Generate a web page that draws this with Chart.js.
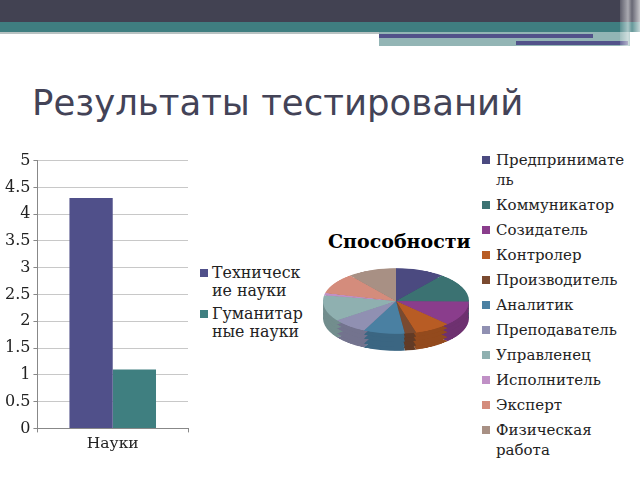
<!DOCTYPE html>
<html>
<head>
<meta charset="utf-8">
<script src="https://cdn.jsdelivr.net/npm/chart.js@4.4.1/dist/chart.umd.min.js"></script>
<style>
  html, body { margin: 0; padding: 0; background: #fff; }
  #slide { position: relative; width: 640px; height: 480px; overflow: hidden; background: #fff; }
  .band { position: absolute; }
  #title { position: absolute; left: 32px; top: 82px; font: 35.5px "DejaVu Sans"; color: #434357; white-space: nowrap; }
  #barBox { position: absolute; left: 0; top: 148px; width: 200px; height: 312px; }
  .legend { position: absolute; font: 15px "DejaVu Serif"; color: #222; }
  .legend .it { position: relative; padding-left: 12px; line-height: 18px; margin-bottom: 5px; white-space: nowrap; }
  .legend .sw { position: absolute; left: 0; top: 5px; width: 8px; height: 8px; }
  #barLegend { left: 200px; top: 264px; font-size: 15.8px; }
  .pieLayer { position: absolute; left: 323px; top: 228px; width: 146px; height: 146px; transform-origin: 50% 50%; }
  #pieTitle { position: absolute; left: 328px; top: 230px; font: bold 19px "DejaVu Serif"; color: #000; white-space: nowrap; }
  #pieLegend { left: 482px; top: 150px; }
  #pieLegend .it { padding-left: 14px; line-height: 20px; }
  #pieLegend .sw { top: 6px; }
</style>
</head>
<body>
<div id="slide">
  <div class="band" style="left:0;top:0;width:640px;height:22px;background:#424252"></div>
  <div class="band" style="left:0;top:22px;width:640px;height:10px;background:#3f7e80"></div>
  <div class="band" style="left:0;top:32px;width:379px;height:2px;background:#b8c2c2"></div>
  <div class="band" style="left:379px;top:32px;width:251px;height:14px;background:#93b5b5"></div>
  <div class="band" style="left:379px;top:34px;width:214px;height:4px;background:#52528a"></div>
  <div class="band" style="left:516px;top:41px;width:112px;height:4px;background:#52528a"></div>
  <div class="band" style="left:620px;top:0;width:20px;height:46px;background:linear-gradient(90deg,rgba(255,255,255,0.15),rgba(255,255,255,0.55) 40%,rgba(255,255,255,0.2) 60%,rgba(255,255,255,0.7))"></div>

  <div id="title">Результаты тестирований</div>

  <div id="barBox"><canvas id="bar"></canvas></div>
  <div class="legend" id="barLegend"></div>

  <div id="pieTitle">Способности</div>
  <div class="pieLayer" id="side1Box"><canvas id="side1"></canvas></div>
  <div class="pieLayer" id="side2Box"><canvas id="side2"></canvas></div>
  <div class="pieLayer" id="side3Box"><canvas id="side3"></canvas></div>
  <div class="pieLayer" id="side4Box"><canvas id="side4"></canvas></div>
  <div class="pieLayer" id="topBox"><canvas id="pieTop"></canvas></div>

  <div class="legend" id="pieLegend"></div>
</div>
<script>
// bar chart data
const barCategories = ["Науки"];
const barSeriesNames = ["Технические науки", "Гуманитарные науки"];
const barLegendText = ["Техническ<br>ие науки", "Гуманитар<br>ные науки"];
const barValues = [[4.3], [1.1]];
const barColors = ["#50508a", "#3f7f80"];
const yTicks = [0, 0.5, 1, 1.5, 2, 2.5, 3, 3.5, 4, 4.5, 5];

// pie chart data
const pieLabels = ["Предприниматель", "Коммуникатор", "Созидатель", "Контролер", "Производитель",
  "Аналитик", "Преподаватель", "Управленец", "Исполнитель", "Эксперт", "Физическая работа"];
const pieLegendText = ["Предпринимате<br>ль", "Коммуникатор", "Созидатель", "Контролер", "Производитель",
  "Аналитик", "Преподаватель", "Управленец", "Исполнитель", "Эксперт", "Физическая<br>работа"];
const pieValues = [3.9, 5.2, 4.4, 2.9, 0.9, 3.3, 2.8, 4.6, 0.4, 3.7, 3.9];
const pieColors = ["#4b4a80", "#3b7272", "#8a3d8c", "#b85c24", "#7a4a30", "#4a80a2",
  "#9090b2", "#8fb0b0", "#c090c6", "#d48c7c", "#a89084"];

function darken(hex, f) {
  const n = parseInt(hex.slice(1), 16);
  const r = Math.round(((n >> 16) & 255) * f), g = Math.round(((n >> 8) & 255) * f), b = Math.round((n & 255) * f);
  return "rgb(" + r + "," + g + "," + b + ")";
}

function fillLegend(el, texts, colors) {
  texts.forEach((t, i) => {
    const d = document.createElement("div");
    d.className = "it";
    d.innerHTML = '<span class="sw" style="background:' + colors[i] + '"></span>' + t;
    el.appendChild(d);
  });
}

new Chart(document.getElementById("bar"), {
  type: "bar",
  data: {
    labels: barCategories,
    datasets: barSeriesNames.map((name, i) => ({
      label: name,
      data: barValues[i],
      backgroundColor: barColors[i],
      barPercentage: 1,
      categoryPercentage: 0.575
    }))
  },
  options: {
    responsive: true,
    maintainAspectRatio: false,
    animation: false,
    layout: { padding: { top: 4, right: 12, bottom: 5, left: 2 } },
    plugins: { tooltip: { enabled: false }, legend: { display: false } },
    scales: {
      y: {
        min: 0, max: 5,
        afterBuildTicks: axis => { axis.ticks = yTicks.map(v => ({ value: v })); },
        ticks: { color: "#222", font: { family: "DejaVu Serif", size: 16 }, padding: 3, callback: v => String(v) },
        grid: { color: "#c8c8c8", tickLength: 4, tickColor: "#888" },
        border: { color: "#888" }
      },
      x: {
        ticks: { color: "#222", font: { family: "DejaVu Serif", size: 15.5 }, padding: 2 },
        grid: { drawOnChartArea: false, tickLength: 4, color: "#888" },
        border: { color: "#888" }
      }
    }
  }
});
fillLegend(document.getElementById("barLegend"), barLegendText, barColors);

// 3D-looking pie: darker copies stacked below the top surface, all flattened
const pieOpts = {
  responsive: true,
  maintainAspectRatio: false,
  animation: false,
  plugins: { legend: { display: false }, tooltip: { enabled: false } },
  layout: { padding: 0 }
};
[["side1", 17], ["side2", 13], ["side3", 8], ["side4", 4]].forEach(([id, dy]) => {
  document.getElementById(id + "Box").style.transform = "translateY(" + dy + "px) scaleY(0.45)";
  new Chart(document.getElementById(id), {
    type: "pie",
    data: { labels: pieLabels, datasets: [{ data: pieValues, backgroundColor: pieColors.map(c => darken(c, 0.8)), borderWidth: 0 }] },
    options: pieOpts
  });
});
document.getElementById("topBox").style.transform = "scaleY(0.45)";
new Chart(document.getElementById("pieTop"), {
  type: "pie",
  data: { labels: pieLabels, datasets: [{ data: pieValues, backgroundColor: pieColors, borderWidth: 0 }] },
  options: pieOpts
});

fillLegend(document.getElementById("pieLegend"), pieLegendText, pieColors);
</script>
</body>
</html>
